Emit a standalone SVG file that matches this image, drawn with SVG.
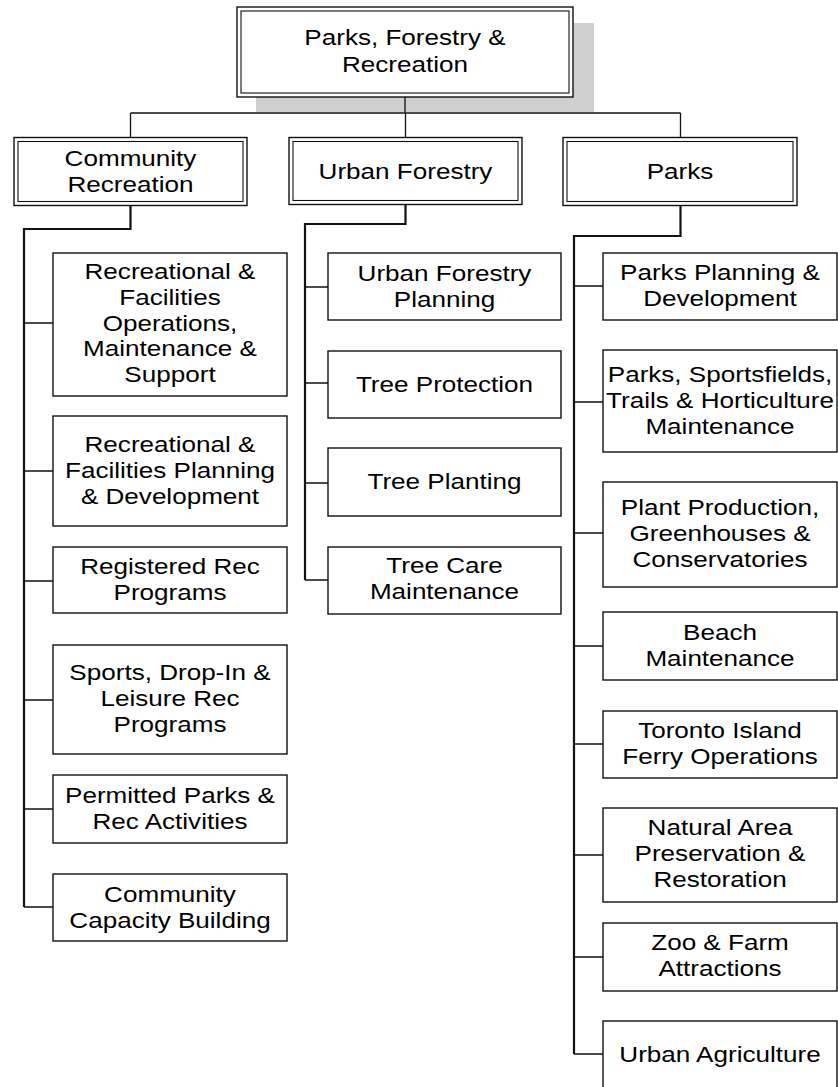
<svg xmlns="http://www.w3.org/2000/svg" width="838" height="1087" viewBox="0 0 838 1087">
<style>
.box{fill:#fff;stroke:#111;stroke-width:1.4}
.dbl{fill:none;stroke:#111;stroke-width:1.1}
.shadow{fill:#cfcfcf;stroke:none}
.spine{fill:none;stroke:#111;stroke-width:2.2}
.conn{fill:none;stroke:#111;stroke-width:1.3}
text{font-family:"Liberation Sans",Arial,sans-serif;font-size:22px;fill:#000;text-anchor:middle}
</style>
<rect width="838" height="1087" fill="#fff"/>
<rect class="shadow" x="256" y="23" width="338" height="89"/>
<g id="connectors">
<path class="conn" d="M405,97V113M130.5,113H680.5M130.5,113V137.5M405.5,113V137.5M680.5,113V137.5"/>
<path class="spine" d="M130.5,205V229H24V907"/>
<path class="spine" d="M405.5,205V224H305V580"/>
<path class="spine" d="M680.5,205V236H574V1054"/>
<path class="conn" d="M24,323H53M24,471H53M24,581H53M24,700H53M24,809H53M24,907H53"/>
<path class="conn" d="M305,287H328M305,383H328M305,483H328M305,580H328"/>
<path class="conn" d="M574,286H603M574,402H603M574,533H603M574,646H603M574,744H603M574,855H603M574,957H603M574,1054H603"/>
</g>
<g id="n-pfr">
<rect class="box" x="237" y="7" width="336" height="90"/>
<rect class="dbl" x="241" y="11" width="328" height="82"/>
<text transform="matrix(1.185 0 0 1 405 0)"><tspan x="0" y="45">Parks, Forestry &amp;</tspan><tspan x="0" y="72">Recreation</tspan></text>
</g>
<g id="n-cr">
<rect class="box" x="14" y="137.5" width="233" height="68"/>
<rect class="dbl" x="18" y="141.5" width="225" height="60"/>
<text transform="matrix(1.185 0 0 1 130.5 0)"><tspan x="0" y="166">Community</tspan><tspan x="0" y="192">Recreation</tspan></text>
</g>
<g id="n-uf">
<rect class="box" x="289" y="137.5" width="233" height="67"/>
<rect class="dbl" x="293" y="141.5" width="225" height="59"/>
<text transform="matrix(1.185 0 0 1 405.5 0)"><tspan x="0" y="179">Urban Forestry</tspan></text>
</g>
<g id="n-parks">
<rect class="box" x="563" y="137.5" width="234" height="68"/>
<rect class="dbl" x="567" y="141.5" width="226" height="60"/>
<text transform="matrix(1.185 0 0 1 680 0)"><tspan x="0" y="179">Parks</tspan></text>
</g>
<g id="n-cr1">
<rect class="box" x="53" y="253" width="234" height="143"/>
<text transform="matrix(1.185 0 0 1 170 0)"><tspan x="0" y="279">Recreational &amp;</tspan><tspan x="0" y="304.8">Facilities</tspan><tspan x="0" y="330.6">Operations,</tspan><tspan x="0" y="356.4">Maintenance &amp;</tspan><tspan x="0" y="382.2">Support</tspan></text>
</g>
<g id="n-cr2">
<rect class="box" x="53" y="416" width="234" height="110"/>
<text transform="matrix(1.185 0 0 1 170 0)"><tspan x="0" y="452">Recreational &amp;</tspan><tspan x="0" y="478">Facilities Planning</tspan><tspan x="0" y="504">&amp; Development</tspan></text>
</g>
<g id="n-cr3">
<rect class="box" x="53" y="547" width="234" height="66"/>
<text transform="matrix(1.185 0 0 1 170 0)"><tspan x="0" y="574">Registered Rec</tspan><tspan x="0" y="600">Programs</tspan></text>
</g>
<g id="n-cr4">
<rect class="box" x="53" y="645" width="234" height="109"/>
<text transform="matrix(1.185 0 0 1 170 0)"><tspan x="0" y="680">Sports, Drop-In &amp;</tspan><tspan x="0" y="706">Leisure Rec</tspan><tspan x="0" y="732">Programs</tspan></text>
</g>
<g id="n-cr5">
<rect class="box" x="53" y="775" width="234" height="68"/>
<text transform="matrix(1.185 0 0 1 170 0)"><tspan x="0" y="803">Permitted Parks &amp;</tspan><tspan x="0" y="829">Rec Activities</tspan></text>
</g>
<g id="n-cr6">
<rect class="box" x="53" y="874" width="234" height="67"/>
<text transform="matrix(1.185 0 0 1 170 0)"><tspan x="0" y="902">Community</tspan><tspan x="0" y="928">Capacity Building</tspan></text>
</g>
<g id="n-uf1">
<rect class="box" x="328" y="253" width="233" height="67"/>
<text transform="matrix(1.185 0 0 1 444.5 0)"><tspan x="0" y="281">Urban Forestry</tspan><tspan x="0" y="307">Planning</tspan></text>
</g>
<g id="n-uf2">
<rect class="box" x="328" y="351" width="233" height="67"/>
<text transform="matrix(1.185 0 0 1 444.5 0)"><tspan x="0" y="392">Tree Protection</tspan></text>
</g>
<g id="n-uf3">
<rect class="box" x="328" y="448" width="233" height="68"/>
<text transform="matrix(1.185 0 0 1 444.5 0)"><tspan x="0" y="489.5">Tree Planting</tspan></text>
</g>
<g id="n-uf4">
<rect class="box" x="328" y="547" width="233" height="67"/>
<text transform="matrix(1.185 0 0 1 444.5 0)"><tspan x="0" y="573">Tree Care</tspan><tspan x="0" y="599">Maintenance</tspan></text>
</g>
<g id="n-p1">
<rect class="box" x="603" y="253" width="234" height="67"/>
<text transform="matrix(1.185 0 0 1 720 0)"><tspan x="0" y="280">Parks Planning &amp;</tspan><tspan x="0" y="306">Development</tspan></text>
</g>
<g id="n-p2">
<rect class="box" x="603" y="350" width="234" height="102"/>
<text transform="matrix(1.185 0 0 1 720 0)"><tspan x="0" y="382">Parks, Sportsfields,</tspan><tspan x="0" y="408">Trails &amp; Horticulture</tspan><tspan x="0" y="434">Maintenance</tspan></text>
</g>
<g id="n-p3">
<rect class="box" x="603" y="482" width="234" height="105"/>
<text transform="matrix(1.185 0 0 1 720 0)"><tspan x="0" y="515">Plant Production,</tspan><tspan x="0" y="541">Greenhouses &amp;</tspan><tspan x="0" y="567">Conservatories</tspan></text>
</g>
<g id="n-p4">
<rect class="box" x="603" y="612" width="234" height="68"/>
<text transform="matrix(1.185 0 0 1 720 0)"><tspan x="0" y="640">Beach</tspan><tspan x="0" y="666">Maintenance</tspan></text>
</g>
<g id="n-p5">
<rect class="box" x="603" y="711" width="234" height="67"/>
<text transform="matrix(1.185 0 0 1 720 0)"><tspan x="0" y="738">Toronto Island</tspan><tspan x="0" y="764">Ferry Operations</tspan></text>
</g>
<g id="n-p6">
<rect class="box" x="603" y="808" width="234" height="94"/>
<text transform="matrix(1.185 0 0 1 720 0)"><tspan x="0" y="835">Natural Area</tspan><tspan x="0" y="861">Preservation &amp;</tspan><tspan x="0" y="887">Restoration</tspan></text>
</g>
<g id="n-p7">
<rect class="box" x="603" y="923" width="234" height="68"/>
<text transform="matrix(1.185 0 0 1 720 0)"><tspan x="0" y="950.5">Zoo &amp; Farm</tspan><tspan x="0" y="976.5">Attractions</tspan></text>
</g>
<g id="n-p8">
<rect class="box" x="603" y="1021" width="234" height="68"/>
<text transform="matrix(1.185 0 0 1 720 0)"><tspan x="0" y="1062">Urban Agriculture</tspan></text>
</g>
</svg>
